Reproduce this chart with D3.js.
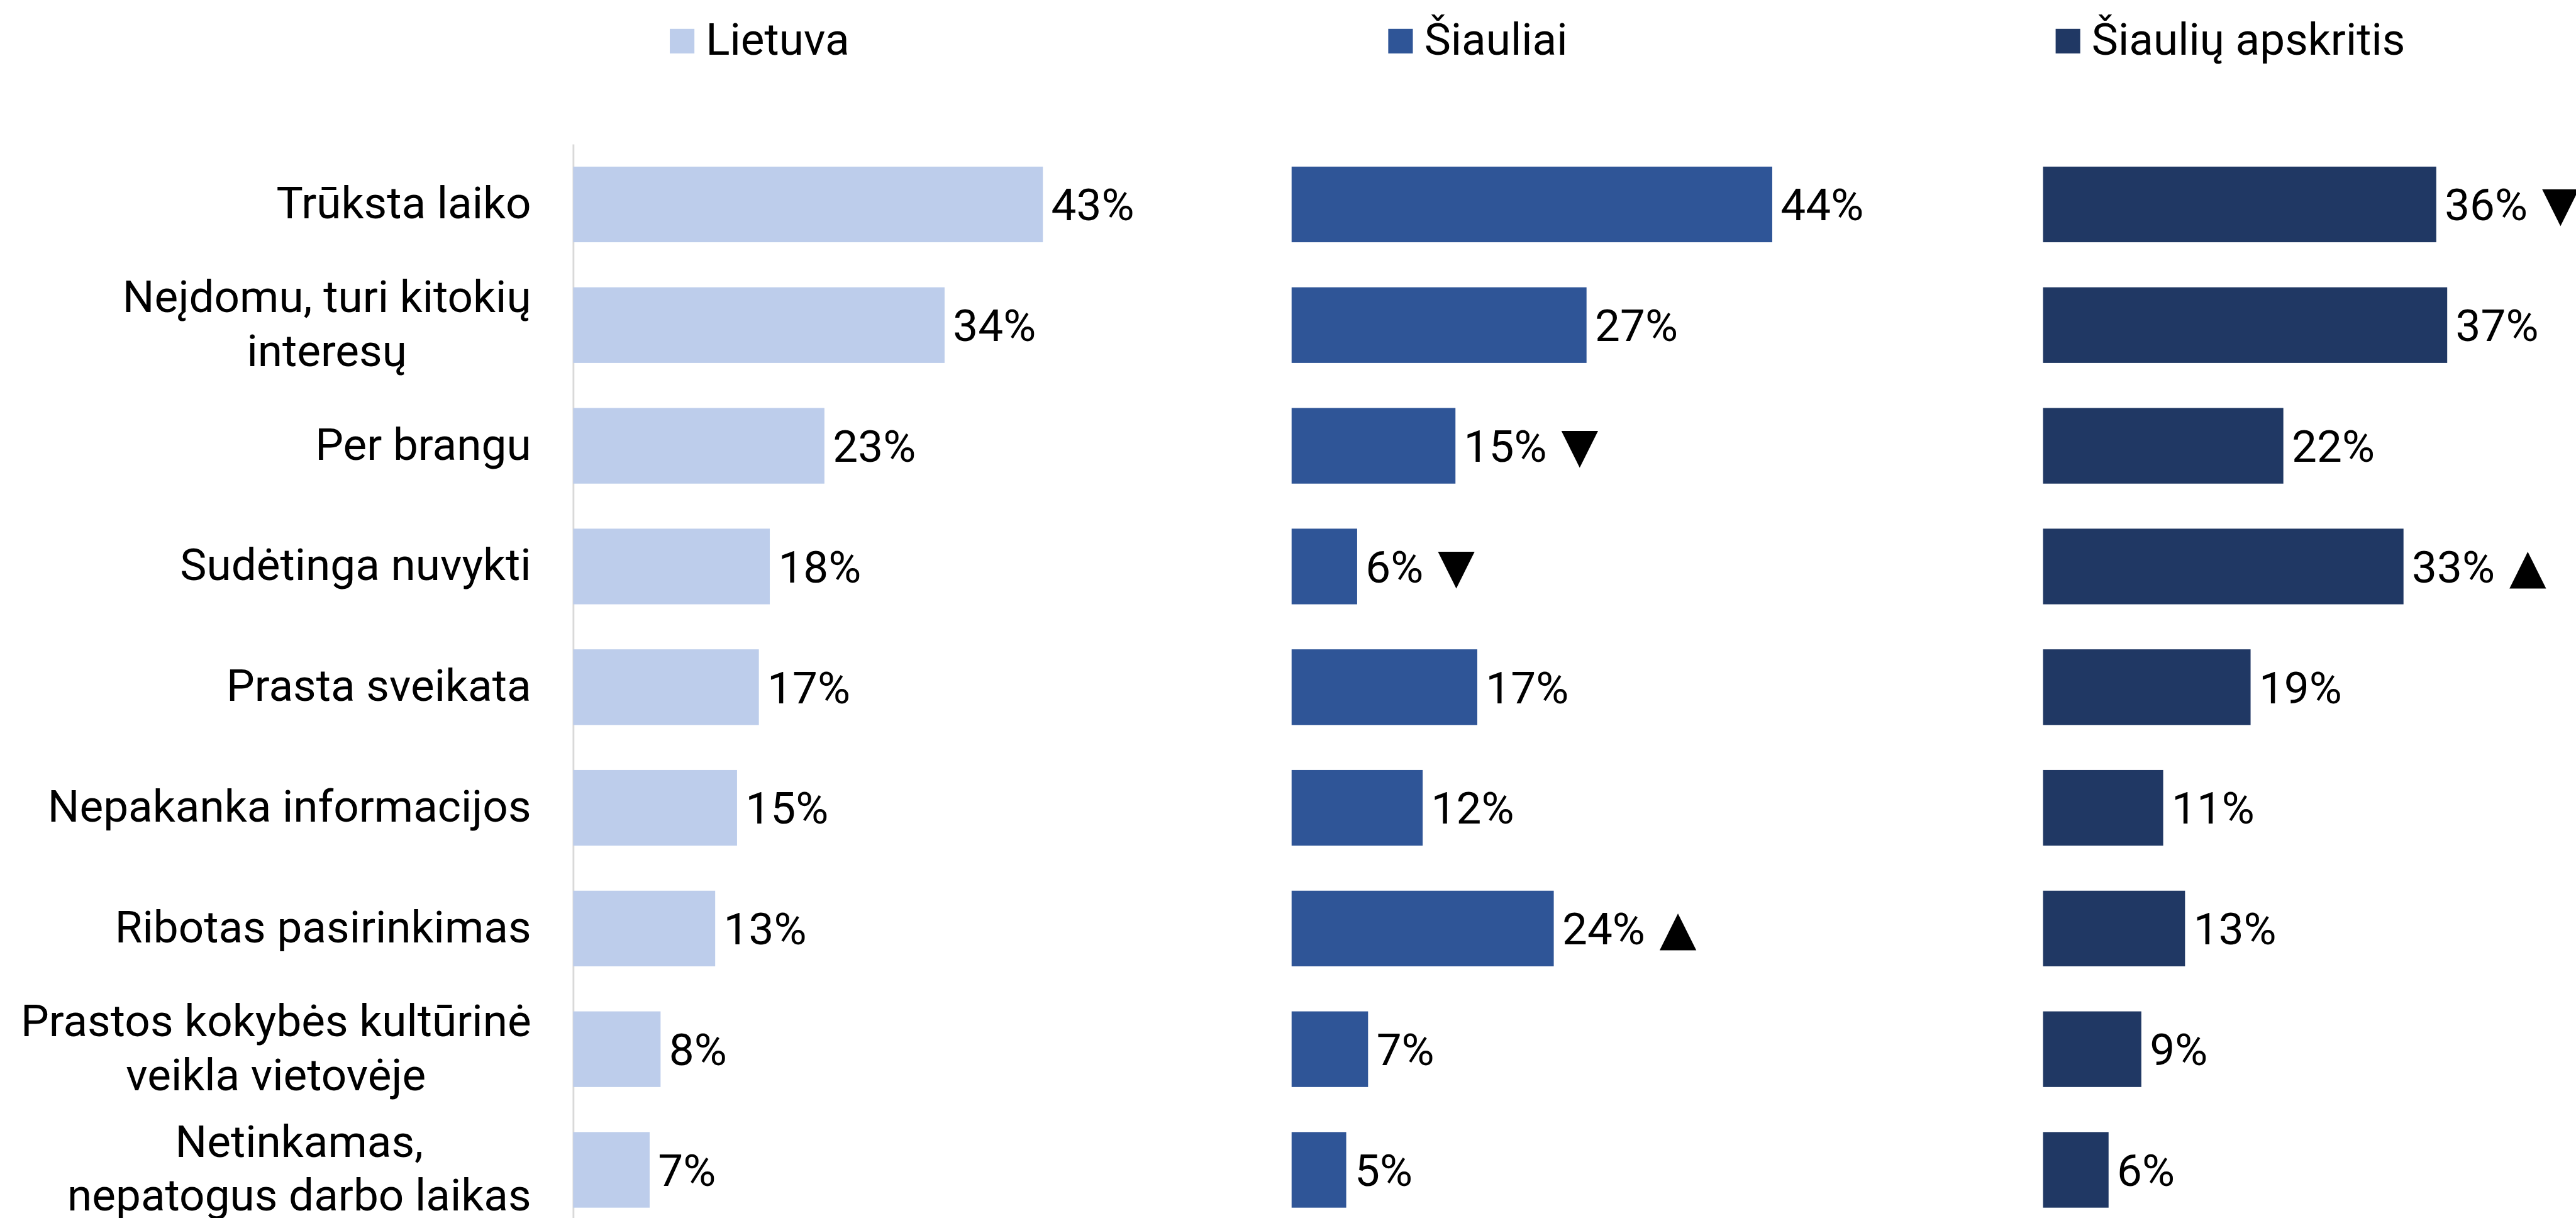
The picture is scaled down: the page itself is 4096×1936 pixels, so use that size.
<!DOCTYPE html>
<html>
<head>
<meta charset="utf-8">
<script src="https://cdn.jsdelivr.net/npm/d3@7"></script>
<style>
  html, body { margin: 0; padding: 0; background: #ffffff; }
  svg { display: block; }
  text { font-family: Roboto, "Noto Sans", sans-serif; fill: #000000; }
</style>
</head>
<body>
<svg id="chart" width="4096" height="1936"></svg>
<script>
// Reasons for not attending cultural events (share of respondents, %)
const categories = [
  "Trūksta laiko",
  "Neįdomu, turi kitokių\ninteresų",
  "Per brangu",
  "Sudėtinga nuvykti",
  "Prasta sveikata",
  "Nepakanka informacijos",
  "Ribotas pasirinkimas",
  "Prastos kokybės kultūrinė\nveikla vietovėje",
  "Netinkamas,\nnepatogus darbo laikas"
];
const seriesNames = ["Lietuva", "Šiauliai", "Šiaulių apskritis"];
const lietuva   = [43, 34, 23, 18, 17, 15, 13, 8, 7];
const siauliai  = [44, 27, 15, 6, 17, 12, 24, 7, 5];
const apskritis = [36, 37, 22, 33, 19, 11, 13, 9, 6];
// Statistically significant differences versus Lietuva
const siauliaiSignif  = ["", "", "down", "down", "", "", "up", "", ""];
const apskritisSignif = ["down", "", "", "up", "", "", "", "", ""];

const series = [
  { name: seriesNames[0], values: lietuva,   signif: null },
  { name: seriesNames[1], values: siauliai,  signif: siauliaiSignif },
  { name: seriesNames[2], values: apskritis, signif: apskritisSignif }
];

// Drawing set up in a 4292 x 2029 design space, scaled to the window
const W = 4292, H = 2029;
const k = 4096 / W;
const colors = ["#bdcdeb", "#2f5597", "#203864"];
const fontSize = 74.5;
const panelX = [955, 2152, 3404];
const legendX = [1116, 2313, 3425];
const labelRight = 885;

const svg = d3.select("#chart");
const root = svg.append("g").attr("transform", `scale(${k})`);

const step = 201, barH = 126;
const pad = (step - barH) / step;
const y = d3.scaleBand()
  .domain(categories)
  .range([240, 240 + categories.length * step])
  .paddingInner(pad)
  .paddingOuter(pad / 2);

const x = d3.scaleLinear().domain([0, 50]).range([0, 910]);

// Legend
const legend = root.append("g");
series.forEach((s, i) => {
  legend.append("rect")
    .attr("x", legendX[i]).attr("y", 48)
    .attr("width", 41).attr("height", 41)
    .attr("fill", colors[i]);
  legend.append("text")
    .attr("x", legendX[i] + 60).attr("y", 91)
    .attr("font-size", fontSize)
    .text(s.name);
});

// Category axis line (first panel only)
const yAxis = d3.axisLeft(y).tickSize(0).tickFormat("");
root.append("g")
  .attr("transform", `translate(${panelX[0]},0)`)
  .call(yAxis)
  .call(g => g.select(".domain").attr("stroke", "#d9d9d9").attr("stroke-width", 3));

// Category labels, multi-line blocks centred and right-aligned to the axis gap
const labels = root.append("g").attr("font-size", fontSize);
categories.forEach(c => {
  const lines = c.split("\n");
  const yc = y(c) + y.bandwidth() / 2;
  const t = labels.append("text").attr("text-anchor", "middle");
  lines.forEach((ln, i) => {
    t.append("tspan")
      .attr("x", 0)
      .attr("y", yc + 23 + (i - (lines.length - 1) / 2) * 90)
      .text(ln);
  });
  const w = d3.max(t.selectAll("tspan").nodes(), n => n.getComputedTextLength());
  t.selectAll("tspan").attr("x", labelRight - w / 2);
});

// Bars and value labels
series.forEach((s, si) => {
  const g = root.append("g").attr("transform", `translate(${panelX[si]},0)`);
  g.selectAll("rect")
    .data(s.values)
    .join("rect")
    .attr("x", 0)
    .attr("y", (d, i) => y(categories[i]))
    .attr("width", d => x(d))
    .attr("height", y.bandwidth())
    .attr("fill", colors[si]);

  const vt = g.selectAll("text.value")
    .data(s.values)
    .join("text")
    .attr("class", "value")
    .attr("font-size", fontSize)
    .attr("x", d => x(d) + 14)
    .attr("y", (d, i) => y(categories[i]) + y.bandwidth() / 2 + 26.5);
  vt.append("tspan").text(d => d + "%");
  vt.each(function (d, i) {
    const mark = s.signif ? s.signif[i] : "";
    if (!mark) return;
    d3.select(this).append("tspan")
      .attr("dx", 24)
      .attr("font-family", "'DejaVu Sans'")
      .attr("font-size", 80)
      .text(mark === "up" ? "▲" : "▼");
  });
});
</script>
</body>
</html>
